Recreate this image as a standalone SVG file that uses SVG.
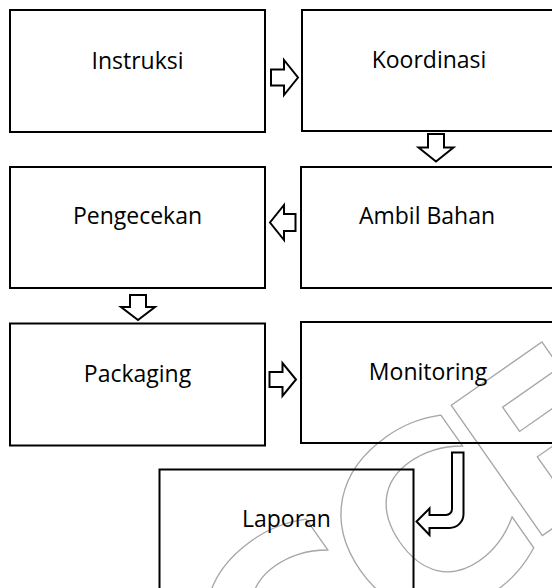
<svg xmlns="http://www.w3.org/2000/svg" width="552" height="588" viewBox="0 0 552 588">
  <style>
    .box { fill: #ffffff; stroke: #000000; stroke-width: 2; }
    .lbl { font-family: "Open Sans", "Noto Sans", "DejaVu Sans", sans-serif; font-size: 23px; fill: #000000; text-anchor: middle; }
    .arr { fill: #ffffff; stroke: #000000; stroke-width: 2; stroke-linejoin: miter; }
    .wm { font-family: "DejaVu Sans", sans-serif; font-weight: bold; fill: none; stroke: #a6a6a6; stroke-width: 1.3; }
  </style>
  <rect x="0" y="0" width="552" height="588" fill="#ffffff"/>

  <g id="watermark" transform="translate(425,525) rotate(-35)">
    <text class="wm"><tspan x="-261.5" y="99" font-size="250">C</tspan><tspan x="-91.5" y="91" font-size="250">C</tspan><tspan x="70" y="76" font-size="218">E</tspan></text>
  </g>

  <g id="node-instruksi">
    <rect class="box" x="10" y="10" width="255" height="122"/>
    <text class="lbl" x="137.5" y="69">Instruksi</text>
  </g>
  <g id="node-koordinasi">
    <rect class="box" x="302" y="10" width="255" height="121"/>
    <text class="lbl" x="429" y="68">Koordinasi</text>
  </g>
  <g id="node-pengecekan">
    <rect class="box" x="10" y="167" width="255" height="121"/>
    <text class="lbl" x="137.5" y="224">Pengecekan</text>
  </g>
  <g id="node-ambil-bahan">
    <rect class="box" x="301" y="167" width="255" height="121"/>
    <text class="lbl" x="427" y="224">Ambil Bahan</text>
  </g>
  <g id="node-packaging">
    <rect class="box" x="10" y="323.5" width="255" height="122"/>
    <text class="lbl" x="137.5" y="381.5">Packaging</text>
  </g>
  <g id="node-monitoring">
    <rect class="box" x="301" y="322" width="255" height="121" fill-opacity="0"/>
    <text class="lbl" x="428" y="380">Monitoring</text>
  </g>
  <g id="node-laporan">
    <rect class="box" x="159.5" y="469.5" width="254" height="130" fill-opacity="0"/>
    <text class="lbl" x="286.5" y="527">Laporan</text>
  </g>

  <g id="connectors">
    <!-- Instruksi -> Koordinasi -->
    <path class="arr" d="M271,69.5 H284 V60 L298,77.5 L284,95 V85.5 H271 Z"/>
    <!-- Koordinasi -> Ambil Bahan -->
    <path class="arr" d="M428,134 V147.5 H418.5 L436,161.5 L453.5,147.5 H444 V134 Z"/>
    <!-- Ambil Bahan -> Pengecekan -->
    <path class="arr" d="M295.5,214 H284 V205 L270,222.5 L284,240 V231 H295.5 Z"/>
    <!-- Pengecekan -> Packaging -->
    <path class="arr" d="M130,295 V307 H121 L138,320 L155,307 H146 V295 Z"/>
    <!-- Packaging -> Monitoring -->
    <path class="arr" d="M269.5,372 H282.5 V363 L296,379.5 L282.5,396 V387 H269.5 Z"/>
    <!-- Monitoring -> Laporan (bent) -->
    <path class="arr" d="M452,452.5 H463.5 V514 A14,14 0 0 1 449.5,528 H429.5 V535 L416.5,521.5 L429.5,508.5 V515 H446 A6,6 0 0 0 452,509 Z" fill-opacity="0"/>
  </g>
</svg>
